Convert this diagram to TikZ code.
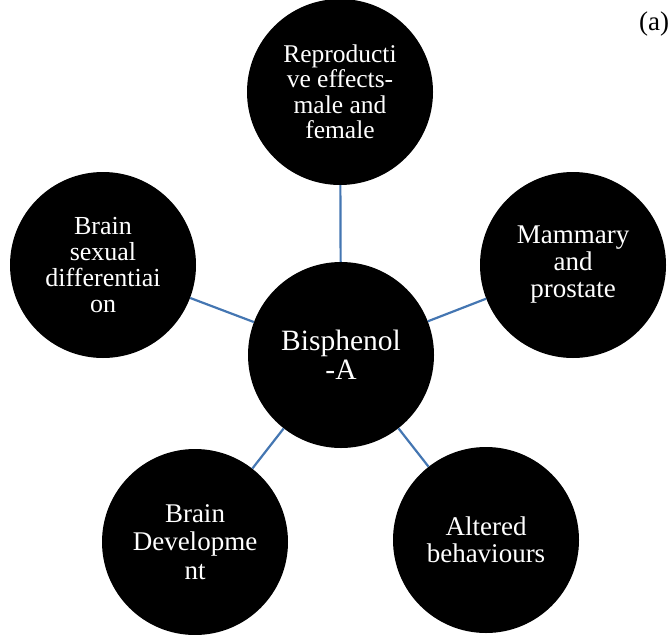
\documentclass[tikz,border=0pt]{standalone}
\usepackage{fontspec}
\setmainfont{Liberation Serif}
\usetikzlibrary{positioning}
\definecolor{linkblue}{RGB}{68,118,178}

\begin{document}
\begin{tikzpicture}[x=1pt, y=-1pt,
    bubble/.style={circle, fill=black, text=white, minimum size=186pt, inner sep=0pt,
        align=center, font=\fontsize{27}{27}\selectfont},
    link/.style={draw=linkblue, line width=2.2pt}]
    % Page frame
    \useasboundingbox (0,0) rectangle (671,634);

    % Hub
    \node[bubble, font=\fontsize{29.5}{29.5}\selectfont] (bpa) at (341,355) {Bisphenol\\-A};

    % Effects around the hub
    \node[bubble, font=\fontsize{25.5}{25.5}\selectfont] (repro) at (340,92)
        {Reproducti\\ve effects-\\male and\\female};
    \node[bubble] (mammary) at (573,265) {Mammary\\and\\prostate};
    \node[bubble] (behav) at (486,540) {Altered\\behaviours};
    \node[bubble, font=\fontsize{27}{28.5}\selectfont] (develop) at (195,542)
        {Brain\\Developme\\nt};
    \node[bubble, font=\fontsize{26}{26}\selectfont] (sexdiff) at (103,265)
        {Brain\\sexual\\differentiai\\on};

    % Connectors
    \foreach \n in {repro, mammary, behav, develop, sexdiff}
        \draw[link] (bpa) -- (\n);

    % Panel tag
    \node[font=\fontsize{27}{27}\selectfont] (tag) at (654,24) {(a)};
\end{tikzpicture}
\end{document}
